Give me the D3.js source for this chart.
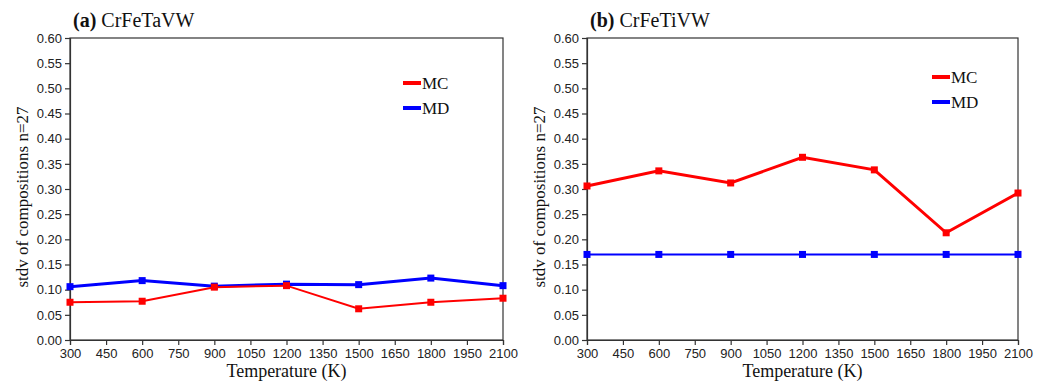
<!DOCTYPE html>
<html>
<head>
<meta charset="utf-8">
<script src="https://cdn.jsdelivr.net/npm/d3@7"></script>
<style>
  body { margin: 0; background: #fff; }
  svg { display: block; }
  .tick text { font-family: "Liberation Sans", Arial, sans-serif; font-size: 13px; fill: #222; }
</style>
</head>
<body>
<div id="chart"></div>
<script>
// temperatures (K) shared by both panels
const temps = [300, 600, 900, 1200, 1500, 1800, 2100];
const xTicks = [300, 450, 600, 750, 900, 1050, 1200, 1350, 1500, 1650, 1800, 1950, 2100];
const yTicks = [0, 0.05, 0.10, 0.15, 0.20, 0.25, 0.30, 0.35, 0.40, 0.45, 0.50, 0.55, 0.60];

// (a) CrFeTaVW
const mcA = [0.075, 0.077, 0.105, 0.108, 0.062, 0.075, 0.083];
const mdA = [0.106, 0.118, 0.107, 0.111, 0.110, 0.123, 0.108];
// (b) CrFeTiVW
const mcB = [0.306, 0.336, 0.312, 0.363, 0.338, 0.213, 0.292];
const mdB = [0.170, 0.170, 0.170, 0.170, 0.170, 0.170, 0.170];

const panels = [
    { tag: '(a)', name: 'CrFeTaVW', mc: mcA, md: mdA, left: 70, right: 503, mcW: 2, mdW: 3, legX: 403, legY: 83 },
    { tag: '(b)', name: 'CrFeTiVW', mc: mcB, md: mdB, left: 587, right: 1018, mcW: 3, mdW: 2, legX: 932, legY: 77 }
];

const svg = d3.select('#chart').append('svg')
    .attr('width', 1045)
    .attr('height', 383);

const plotTop = 38, plotBottom = 340;
const serif = '"Liberation Serif", "Times New Roman", serif';

panels.forEach(p => {
    const x = d3.scaleLinear().domain([300, 2100]).range([p.left, p.right]);
    const y = d3.scaleLinear().domain([0, 0.6]).range([plotBottom, plotTop]);

    // frame
    svg.append('rect')
        .attr('x', p.left).attr('y', plotTop)
        .attr('width', p.right - p.left).attr('height', plotBottom - plotTop)
        .attr('fill', 'none').attr('stroke', '#333').attr('stroke-width', 1.2);

    const gx = svg.append('g')
        .attr('transform', `translate(0,${plotBottom})`)
        .call(d3.axisBottom(x).tickValues(xTicks).tickFormat(d3.format('d')).tickSize(5).tickPadding(4));
    const gy = svg.append('g')
        .attr('transform', `translate(${p.left},0)`)
        .call(d3.axisLeft(y).tickValues(yTicks).tickFormat(d3.format('.2f')).tickSize(5).tickPadding(3));
    [gx, gy].forEach(g => {
        g.select('.domain').attr('stroke', '#333').attr('stroke-width', 1.2);
        g.selectAll('.tick line').attr('stroke', '#333').attr('stroke-width', 1.2);
    });

    const line = d3.line().x((d, i) => x(temps[i])).y(d => y(d));

    const series = [
        { vals: p.md, color: '#0000ff', w: p.mdW },
        { vals: p.mc, color: '#ff0000', w: p.mcW }
    ];
    series.forEach(s => {
        svg.append('path')
            .datum(s.vals)
            .attr('d', line)
            .attr('fill', 'none')
            .attr('stroke', s.color)
            .attr('stroke-width', s.w);
        svg.append('g').selectAll('rect')
            .data(s.vals)
            .join('rect')
            .attr('x', (d, i) => x(temps[i]) - 3.5)
            .attr('y', d => y(d) - 3.5)
            .attr('width', 7).attr('height', 7)
            .attr('fill', s.color);
    });

    // title
    const title = svg.append('text')
        .attr('x', p.left + 3)
        .attr('y', 27)
        .attr('font-family', serif)
        .attr('font-size', '20px')
        .attr('fill', '#111');
    title.append('tspan').attr('font-weight', 'bold').text(p.tag + ' ');
    title.append('tspan').text(p.name);

    // axis titles
    svg.append('text')
        .attr('x', (p.left + p.right) / 2)
        .attr('y', 377)
        .attr('text-anchor', 'middle')
        .attr('font-family', serif)
        .attr('font-size', '18px')
        .attr('fill', '#111')
        .text('Temperature (K)');
    svg.append('text')
        .attr('transform', `translate(${p.left - 42},${(plotTop + plotBottom) / 2 + 8}) rotate(-90)`)
        .attr('text-anchor', 'middle')
        .attr('font-family', serif)
        .attr('font-size', '17px')
        .attr('fill', '#111')
        .text('stdv of compositions n=27');

    // legend
    [{ label: 'MC', color: '#ff0000' }, { label: 'MD', color: '#0000ff' }].forEach((l, i) => {
        const ly = p.legY + i * 25;
        svg.append('line')
            .attr('x1', p.legX).attr('x2', p.legX + 18)
            .attr('y1', ly).attr('y2', ly)
            .attr('stroke', l.color).attr('stroke-width', 4);
        svg.append('text')
            .attr('x', p.legX + 19)
            .attr('y', ly + 6)
            .attr('font-family', serif)
            .attr('font-size', '17px')
            .attr('fill', '#111')
            .text(l.label);
    });
});
</script>
</body>
</html>
